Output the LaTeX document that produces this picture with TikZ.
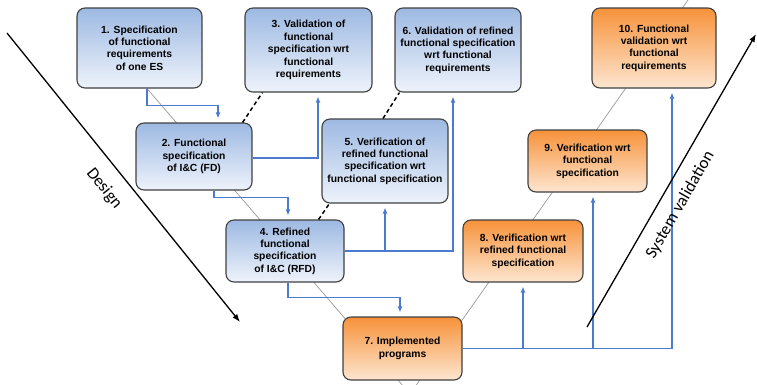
\documentclass[tikz,border=0pt]{standalone}
\usepackage{fontspec}
\setmainfont{Liberation Sans}
\newfontfamily\phasefont{Carlito}
\usetikzlibrary{positioning}
\usetikzlibrary{arrows.meta,backgrounds}
\definecolor{flowblue}{HTML}{4A7BD0}
\definecolor{boxline}{HTML}{404040}
\definecolor{designtop}{HTML}{9DB9E2}
\definecolor{designbot}{HTML}{EEF3FB}
\definecolor{testtop}{HTML}{F7923A}
\definecolor{testbot}{HTML}{FDE6D0}

\begin{document}
\begin{tikzpicture}[x=1pt,y=-1pt,
  box/.style={draw=boxline,line width=1.1pt,rounded corners=8pt,align=center,
    inner sep=2pt,font=\fontsize{10.3}{12.4}\selectfont\bfseries},
  design/.style={box,top color=designtop,bottom color=designbot},
  test/.style={box,top color=testtop,bottom color=testbot},
  flow/.style={draw=flowblue,line width=1.2pt,-{Latex[length=6pt,width=5pt]},shorten >=4pt},
  trace/.style={black,line width=1.5pt,dash pattern=on 4pt off 3pt},
  vline/.style={gray!80,line width=0.7pt},
  phase/.style={black,line width=1.3pt,-{Latex[length=8pt,width=6pt]}},
  phaselabel/.style={sloped,inner sep=0pt,font=\phasefont\fontsize{17}{20}\selectfont}]
\useasboundingbox (0,0) rectangle (757,384);
% design side
\node[design,minimum width=125,minimum height=80] (b1) at (139.5,48) {1. Specification\\of functional\\requirements\\of one ES};
\node[design,minimum width=116,minimum height=67] (b2) at (194,156.5) {2. Functional\\specification\\of I\&C (FD)};
\node[design,minimum width=127,minimum height=84] (b3) at (308.5,50) {3. Validation of\\functional\\specification wrt\\functional\\requirements};
\node[design,minimum width=118,minimum height=62] (b4) at (285,251) {4. Refined\\functional\\specification\\of I\&C (RFD)};
\node[design,minimum width=126,minimum height=84] (b5) at (385,161) {5. Verification of\\refined functional\\specification wrt\\functional specification};
\node[design,minimum width=126,minimum height=84] (b6) at (458,50) {6. Validation of refined\\functional specification\\wrt functional\\requirements};
% validation side
\node[test,minimum width=119,minimum height=63] (b7) at (402.5,348.5) {7. Implemented\\programs};
\node[test,minimum width=120,minimum height=62] (b8) at (523,251) {8. Verification wrt\\refined functional\\specification};
\node[test,minimum width=119,minimum height=62] (b9) at (587.5,161) {9. Verification wrt\\functional\\specification};
\node[test,minimum width=124,minimum height=80] (b10) at (654,48) {10. Functional\\validation wrt\\functional\\requirements};
% the V
\coordinate (vtip) at (410,394);
\coordinate (vtop) at (688,0);
\begin{scope}[on background layer]
\draw[vline] ([xshift=7.5]b1.south) -- (vtip) -- (vtop);
\end{scope}
% flows
\draw[flow] ([xshift=7.5]b1.south) -- ++(0,17) -| ([xshift=24]b2.north);
\draw[flow] ([yshift=-1.5]b2.east) -| ([xshift=9.5]b3.south);
\draw[flow] ([xshift=20]b2.south) -- ++(0,7) -| ([xshift=3]b4.north);
\draw[flow] (b4.east) -| ([xshift=-5]b6.south);
\draw[flow] (b5.south |- b4.east) -- (b5.south);
\draw[flow] ([xshift=3]b4.south) -- ++(0,15) -| ([xshift=-2.5]b7.north);
\draw[flow] (b7.east) -| ([xshift=18]b10.south);
\draw[flow] (b8.south |- b7.east) -- (b8.south);
\coordinate (b9in) at ([xshift=5.5]b9.south);
\draw[flow] (b9in |- b7.east) -- (b9in);
% traces
\draw[trace] ([xshift=-10]b2.north east) -- ([xshift=18]b3.south west);
\draw[trace] ([xshift=-26]b4.north east) -- ([xshift=8]b5.south west);
\draw[trace] ([xshift=-2]b5.north) -- ([xshift=5]b6.south west);
% phases
\coordinate (d0) at (7,33);
\coordinate (d1) at (240,322);
\draw[phase] (d0) -- node[phaselabel,below=14pt,pos=0.49] {Design} (d1);
\coordinate (s0) at (587,327);
\coordinate (s1) at (756,34);
\draw[phase] (s0) -- node[phaselabel,below=12pt,pos=0.45] {System validation} (s1);
\end{tikzpicture}
\end{document}
